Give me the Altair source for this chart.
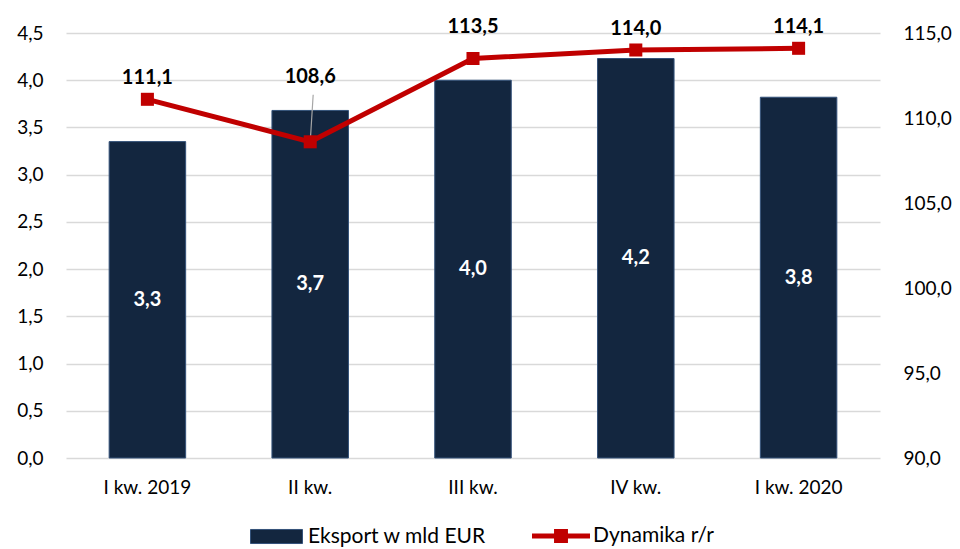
import altair as alt
import pandas as pd

categories = ["I kw. 2019", "II kw.", "III kw.", "IV kw.", "I kw. 2020"]
eksport = [3.35, 3.68, 4.0, 4.23, 3.82]
eksport_labels = ["3,3", "3,7", "4,0", "4,2", "3,8"]
dynamika = [111.1, 108.6, 113.5, 114.0, 114.1]
dynamika_labels = ["111,1", "108,6", "113,5", "114,0", "114,1"]
left_ticks = [0, 0.5, 1, 1.5, 2, 2.5, 3, 3.5, 4, 4.5]
right_ticks = [90, 95, 100, 105, 110, 115]

df = pd.DataFrame({
    "kw": categories,
    "eksport": eksport,
    "elab": eksport_labels,
    "dyn": dynamika,
    "dlab": dynamika_labels,
})

FONT = "Lato"
NAVY = "#13263F"
RED = "#C00000"
TICK_FS = 19
LABEL_FS = 20
LEGEND_FS = 21

x_enc = alt.X("kw:N", sort=categories,
              scale=alt.Scale(paddingInner=0.53, paddingOuter=0.265),
              axis=alt.Axis(title=None, labelAngle=0, domain=False, ticks=False,
                            labelPadding=20, labelFontSize=TICK_FS, labelColor="#000",
                            labelFont=FONT))
x_plain = alt.X("kw:N", sort=categories)

left_scale = alt.Scale(domain=[0, 4.5], nice=False)
right_scale = alt.Scale(domain=[90, 115], nice=False)

base = alt.Chart(df)

bars = base.mark_bar(stroke="#34527A", strokeWidth=1).transform_calculate(
    series="'Eksport w mld EUR'"
).encode(
    x=x_enc,
    y=alt.Y("eksport:Q", scale=left_scale,
            axis=alt.Axis(title=None, values=left_ticks, domain=False, ticks=False,
                          grid=True, gridColor="#D9D9D9", gridWidth=1.5,
                          labelPadding=23, labelFontSize=TICK_FS, labelColor="#000",
                          labelFont=FONT,
                          labelExpr="replace(format(datum.value, '.1f'), '.', ',')")),
    color=alt.Color("series:N",
                    scale=alt.Scale(domain=["Eksport w mld EUR"], range=[NAVY]),
                    legend=alt.Legend(title=None, orient="none", legendX=184, legendY=477,
                                      symbolType="M-1,-0.27H1V0.27H-1Z", symbolSize=2704,
                                      symbolStrokeColor="#34527A", symbolStrokeWidth=1,
                                      labelFontSize=LEGEND_FS, labelFont=FONT, labelColor="#000",
                                      labelOffset=5, labelLimit=400, padding=0)),
)

bar_text = base.mark_text(color="white", fontWeight="bold", fontSize=LABEL_FS, font=FONT).transform_calculate(
    mid="datum.eksport / 2"
).encode(
    x=x_plain,
    y=alt.Y("mid:Q", scale=left_scale),
    text="elab:N",
)

left_layer = alt.layer(bars, bar_text)

line = base.mark_line(color=RED, strokeWidth=5).encode(
    x=x_plain,
    y=alt.Y("dyn:Q", scale=right_scale,
            axis=alt.Axis(title=None, orient="right", values=right_ticks, domain=False,
                          ticks=False, grid=False, labelPadding=23, labelFontSize=TICK_FS,
                          labelColor="#000", labelFont=FONT,
                          labelExpr="replace(format(datum.value, '.1f'), '.', ',')")),
)

points = base.mark_point(shape="square", filled=True, size=170, opacity=1).transform_calculate(
    series="'Dynamika r/r'"
).encode(
    x=x_plain,
    y=alt.Y("dyn:Q", scale=right_scale),
    color=alt.Color("series:N",
                    scale=alt.Scale(domain=["Dynamika r/r"], range=[RED]),
                    legend=alt.Legend(title=None, orient="none", legendX=466, legendY=474,
                                      symbolType="M-1,-0.086H1V0.086H-1Z M-0.24,-0.24H0.24V0.24H-0.24Z",
                                      symbolSize=3364, symbolStrokeWidth=0,
                                      labelFontSize=LEGEND_FS, labelFont=FONT, labelColor="#000",
                                      labelOffset=3, labelLimit=400, padding=0)),
)

def dyn_text(filter_expr, dy):
    return base.transform_filter(filter_expr).mark_text(
        color="black", fontWeight="bold", fontSize=LABEL_FS, font=FONT, dy=dy
    ).encode(
        x=x_plain,
        y=alt.Y("dyn:Q", scale=right_scale),
        text="dlab:N",
    )

text_default = dyn_text("datum.kw != 'II kw.' && datum.kw != 'III kw.'", -21)
text_iii = dyn_text("datum.kw == 'III kw.'", -32)
text_ii = dyn_text("datum.kw == 'II kw.'", -65)

leader = base.transform_filter("datum.kw == 'II kw.'").mark_rule(
    color="#A6A6A6", strokeWidth=1.2, y2Offset=-47, x2Offset=3
).encode(
    x=x_plain,
    x2=alt.X2("kw:N"),
    y=alt.Y("dyn:Q", scale=right_scale),
    y2=alt.Y2("dyn:Q"),
)

right_layer = alt.layer(line, leader, points, text_default, text_iii, text_ii)

chart = alt.layer(left_layer, right_layer).resolve_scale(
    y="independent", color="independent"
).properties(
    width=814, height=425,
    background="white",
    autosize=alt.AutoSizeParams(type="none"),
    padding={"left": 66, "top": 33, "right": 80, "bottom": 91},
).configure_view(strokeWidth=0)

chart.save("out.html", embed_options={"renderer": "svg", "actions": False})
